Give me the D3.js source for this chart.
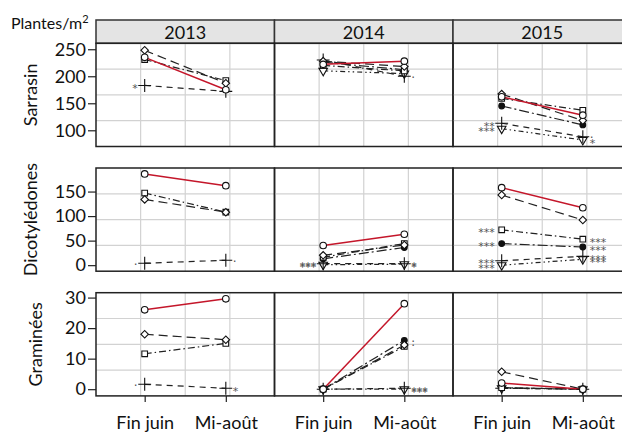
<!DOCTYPE html>
<html>
<head>
<meta charset="utf-8">
<script src="https://cdn.jsdelivr.net/npm/d3@7"></script>
<style>
  html, body { margin: 0; padding: 0; background: #fff; }
  svg { display: block; }
  text { font-family: Lato, "Open Sans", sans-serif; fill: #111; }
</style>
</head>
<body>
<svg id="chart" width="622" height="435"></svg>
<script>
// Weed density (plants/m²) per crop group, year and sampling date
const groups = ["Sarrasin", "Dicotylédones", "Graminées"];
const years = ["2013", "2014", "2015"];
const periods = ["Fin juin", "Mi-août"];

// Y axis ticks for each group
const ticksSarrasin = [100, 150, 200, 250];
const ticksDicot = [0, 50, 100, 150];
const ticksGram = [0, 10, 20, 30];

// Series values: [group][year] -> [Fin juin, Mi-août]; null when not sampled
const seriesCircle = [
  [[235, 175], [222, 228], [162, 128]],
  [[186, 162], [40, 63], [158, 117]],
  [[26, 29.6], [0, 28], [2, 0]]
];
const seriesDiamond = [
  [[248, 187], [228, 218], [167, 118]],
  [[134, 108], [20, 41], [143, 92]],
  [[18, 16.2], [0, 14.5], [5.7, 0]]
];
const seriesSquare = [
  [[231, 192], [220, 210], [159, 137]],
  [[147, 108], [16, 44], [72, 53]],
  [[11.6, 15], [0, 14], [0.5, 0]]
];
const seriesPlus = [
  [[183, 172], [230, 200], [113, 88]],
  [[4, 10], [3, 3], [9, 18]],
  [[1.6, 0.3], [0, 0.3], [0.3, 0]]
];
const seriesTriangle = [
  [null, [210, 205], [103, 82]],
  [null, [1, 2], [0, 12]],
  [null, [0, 0], [0.3, 0]]
];
const seriesDot = [
  [null, [226, 212], [145, 110]],
  [null, [13, 36], [44, 37]],
  [null, [0, 16], [0.5, 0]]
];

// Significance labels: [group, year, series key, period index, text]
const signif = [
  ["Sarrasin", "2013", "plus", 0, "*"],
  ["Sarrasin", "2014", "plus", 1, "."],
  ["Sarrasin", "2015", "plus", 0, "**"],
  ["Sarrasin", "2015", "triangle", 0, "***"],
  ["Sarrasin", "2015", "plus", 1, "."],
  ["Sarrasin", "2015", "triangle", 1, "*"],
  ["Dicotylédones", "2013", "plus", 0, "."],
  ["Dicotylédones", "2013", "plus", 1, "."],
  ["Dicotylédones", "2014", "plus", 0, "***"],
  ["Dicotylédones", "2014", "triangle", 0, "***"],
  ["Dicotylédones", "2014", "plus", 1, "*"],
  ["Dicotylédones", "2014", "triangle", 1, "*"],
  ["Dicotylédones", "2015", "square", 0, "***"],
  ["Dicotylédones", "2015", "square", 1, "***"],
  ["Dicotylédones", "2015", "dot", 0, "***"],
  ["Dicotylédones", "2015", "dot", 1, "***"],
  ["Dicotylédones", "2015", "plus", 0, "***"],
  ["Dicotylédones", "2015", "triangle", 0, "***"],
  ["Dicotylédones", "2015", "plus", 1, "***"],
  ["Dicotylédones", "2015", "triangle", 1, "***"],
  ["Graminées", "2013", "plus", 0, "."],
  ["Graminées", "2013", "plus", 1, "*"],
  ["Graminées", "2014", "dot", 1, "."],
  ["Graminées", "2014", "diamond", 1, "."],
  ["Graminées", "2014", "plus", 1, "***"],
  ["Graminées", "2014", "triangle", 1, "***"]
];

// Series appearance
const seriesDefs = [
  { key: "dot", values: seriesDot, symbol: d3.symbolCircle, size: 26, fill: "#111", dash: "10,3,2,3", color: "#222", rot: 0 },
  { key: "triangle", values: seriesTriangle, symbol: d3.symbolTriangle, size: 32, fill: "#fff", dash: "5,3,1.5,3,1.5,3", color: "#222", rot: 180 },
  { key: "plus", values: seriesPlus, symbol: d3.symbolPlus, size: 56, fill: "none", dash: "6,5", color: "#222", rot: 0 },
  { key: "square", values: seriesSquare, symbol: d3.symbolSquare, size: 32, fill: "#fff", dash: "7,3,1.5,3", color: "#222", rot: 0 },
  { key: "diamond", values: seriesDiamond, symbol: d3.symbolSquare, size: 28, fill: "#fff", dash: "9,5", color: "#222", rot: 45 },
  { key: "circle", values: seriesCircle, symbol: d3.symbolCircle, size: 34, fill: "#fff", dash: null, color: "#c4162a", rot: 0 }
];

const tickSets = [ticksSarrasin, ticksDicot, ticksGram];
const yDomains = [[70, 261], [-12.3, 198], [-2.2, 31.6]];

// Layout
const panelLeft = 96, panelW = 178.5;
const panelTop = 43.3, panelH = 103.2, rowStep = 124.7;
const stripTop = 20;

const svg = d3.select("#chart");

const x = d3.scalePoint().domain(periods).range([0, panelW]).padding(0.6);

// Header unit label
const unit = svg.append("text").attr("x", 11).attr("y", 29).style("font-size", "16px");
unit.append("tspan").text("Plantes/m");
unit.append("tspan").attr("dy", -6).style("font-size", "11px").text("2");

// Strips
years.forEach((yr, j) => {
  const x0 = panelLeft + j * panelW;
  svg.append("rect").attr("x", x0).attr("y", stripTop)
    .attr("width", panelW).attr("height", panelTop - stripTop)
    .attr("fill", "#e4e4e4").attr("stroke", "#333").attr("stroke-width", 1.5);
  svg.append("text").attr("x", x0 + panelW / 2).attr("y", 39)
    .attr("text-anchor", "middle").style("font-size", "18px").text(yr);
});

const labelX = [37, 37, 42];

groups.forEach((grp, i) => {
  const y0 = panelTop + i * rowStep;
  const y = d3.scaleLinear().domain(yDomains[i]).range([panelH, 0]);

  // Row label
  svg.append("text")
    .attr("transform", `translate(${labelX[i]},${y0 + panelH / 2}) rotate(-90)`)
    .attr("text-anchor", "middle").style("font-size", "18px").text(grp);

  // Y axis on the first column
  const yAxis = svg.append("g").attr("transform", `translate(${panelLeft},${y0})`)
    .call(d3.axisLeft(y).tickValues(tickSets[i]).tickSize(8).tickPadding(2));
  yAxis.select(".domain").remove();
  yAxis.selectAll(".tick line").attr("stroke", "#222").attr("stroke-width", 1.2);
  yAxis.selectAll(".tick text").style("font-size", "18px").style("font-family", "Lato, sans-serif").attr("fill", "#111");

  years.forEach((yr, j) => {
    const x0 = panelLeft + j * panelW;
    const g = svg.append("g").attr("transform", `translate(${x0},${y0})`);

    // Quarter grid
    [0.25, 0.5, 0.75].forEach(f => {
      g.append("line").attr("x1", 0).attr("x2", panelW).attr("y1", panelH * f).attr("y2", panelH * f)
        .attr("stroke", "#d2d2d2").attr("stroke-width", 1.2);
      g.append("line").attr("y1", 0).attr("y2", panelH).attr("x1", panelW * f).attr("x2", panelW * f)
        .attr("stroke", "#d2d2d2").attr("stroke-width", 1.2);
    });

    const line = d3.line().x(d => x(d[0])).y(d => y(d[1]));

    // Lines
    seriesDefs.forEach(s => {
      const v = s.values[i][j];
      if (!v) return;
      g.append("path").datum(periods.map((p, k) => [p, v[k]]))
        .attr("d", line).attr("fill", "none")
        .attr("stroke", s.color).attr("stroke-width", s.key === "circle" ? 1.5 : 1.2)
        .attr("stroke-dasharray", s.dash);
    });

    // Markers
    seriesDefs.forEach(s => {
      const v = s.values[i][j];
      if (!v) return;
      periods.forEach((p, k) => {
        g.append("path")
          .attr("d", d3.symbol().type(s.symbol).size(s.size)())
          .attr("transform", `translate(${x(p)},${y(v[k])}) rotate(${s.rot})`)
          .attr("fill", s.fill).attr("stroke", "#111").attr("stroke-width", 1.1);
      });
    });

    // Significance labels
    signif.filter(d => d[0] === grp && d[1] === yr).forEach(d => {
      const s = seriesDefs.find(e => e.key === d[2]);
      const val = s.values[i][j][d[3]];
      const px = x(periods[d[3]]);
      const isDot = d[4] === ".";
      g.append("text")
        .attr("x", d[3] === 0 ? px - 7 : px + 7)
        .attr("y", y(val) + (isDot ? 1.5 : 6.5))
        .attr("text-anchor", d[3] === 0 ? "end" : "start")
        .style("font-family", "DejaVu Sans, sans-serif")
        .style("font-size", isDot ? "12px" : "11px")
        .style("fill", "#555")
        .text(d[4]);
    });

    // Panel frame
    g.append("rect").attr("width", panelW).attr("height", panelH)
      .attr("fill", "none").attr("stroke", "#222").attr("stroke-width", 1.5);

    // X axis on the bottom row
    if (i === groups.length - 1) {
      const xa = g.append("g").attr("transform", `translate(0,${panelH})`)
        .call(d3.axisBottom(x).tickSize(6).tickPadding(14));
      xa.select(".domain").remove();
      xa.selectAll(".tick line").attr("stroke", "#222").attr("stroke-width", 1.2);
      xa.selectAll(".tick text").style("font-size", "18px").style("font-family", "Lato, sans-serif").attr("fill", "#111");
    }
  });
});
</script>
</body>
</html>
